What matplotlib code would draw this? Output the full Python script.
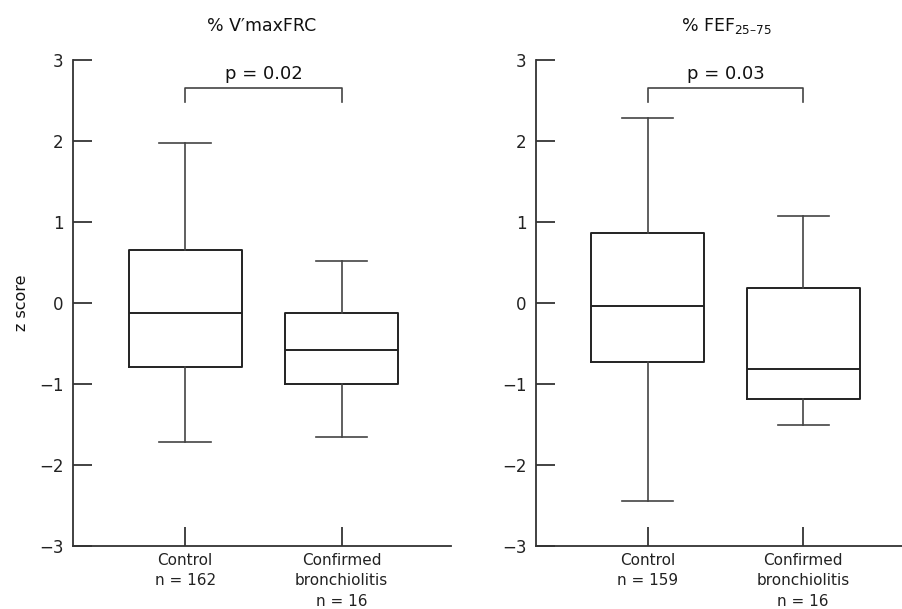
import matplotlib
matplotlib.use("Agg")
import matplotlib.pyplot as plt

plt.rcParams['font.family'] = ['DejaVu Sans']
plt.rcParams['mathtext.fontset'] = 'dejavusans'

# Data (z scores)
categories_left = ["Control\nn = 162", "Confirmed\nbronchiolitis\nn = 16"]
categories_right = ["Control\nn = 159", "Confirmed\nbronchiolitis\nn = 16"]

vmax_whislo = [-1.72, -1.65]
vmax_q1 = [-0.79, -1.00]
vmax_med = [-0.12, -0.58]
vmax_q3 = [0.66, -0.12]
vmax_whishi = [1.98, 0.52]

fef_whislo = [-2.44, -1.51]
fef_q1 = [-0.73, -1.18]
fef_med = [-0.04, -0.82]
fef_q3 = [0.86, 0.19]
fef_whishi = [2.28, 1.07]

titles = ["% V\u2032maxFRC", "% FEF$_{25\u201375}$"]
p_labels = ["p = 0.02", "p = 0.03"]
yticks = [-3, -2, -1, 0, 1, 2, 3]

fig = plt.figure(figsize=(9.02, 6.09), dpi=100)
ax_l = fig.add_axes([73/902, 63/609, (451-73)/902, 486/609])
ax_r = fig.add_axes([536/902, 63/609, (902-536)/902, 486/609])

panels = [
    (ax_l, categories_left, vmax_whislo, vmax_q1, vmax_med, vmax_q3, vmax_whishi),
    (ax_r, categories_right, fef_whislo, fef_q1, fef_med, fef_q3, fef_whishi),
]

line_c = '#222222'
for i, (ax, cats, wl, q1, med, q3, wh) in enumerate(panels):
    stats = []
    for k in range(len(cats)):
        stats.append(dict(whislo=wl[k], q1=q1[k], med=med[k], q3=q3[k],
                          whishi=wh[k], fliers=[]))
    ax.bxp(stats, positions=[0, 1], widths=0.725, showfliers=False,
           boxprops=dict(color=line_c, linewidth=1.4),
           medianprops=dict(color=line_c, linewidth=1.4),
           whiskerprops=dict(color='#444444', linewidth=1.2),
           capprops=dict(color='#444444', linewidth=1.2),
           capwidths=0.33)
    ax.set_xlim(-0.718, 1.70 if i == 0 else 1.635)
    ax.set_ylim(-3, 3)
    ax.set_yticks(yticks)
    ax.set_yticklabels([str(t).replace('-', '\u2212') for t in yticks])
    ax.set_xticks([0, 1])
    ax.set_xticklabels(cats, fontsize=11, linespacing=1.45)
    ax.tick_params(axis='y', direction='in', length=14, width=1.2,
                   labelsize=12, pad=7, colors=line_c)
    ax.tick_params(axis='x', direction='in', length=14, width=1.2,
                   labelsize=11, pad=5, colors=line_c)
    for s in ['top', 'right']:
        ax.spines[s].set_visible(False)
    for s in ['left', 'bottom']:
        ax.spines[s].set_linewidth(1.3)
        ax.spines[s].set_color('#333333')
    # significance bracket
    ax.plot([0, 0, 1, 1], [2.48, 2.65, 2.65, 2.48], color='#444444', linewidth=1.2)
    ax.text(0.5, 2.71, p_labels[i], ha='center', va='bottom', fontsize=13, color='#111111')
    ax.set_title(titles[i], fontsize=12.5, pad=21, color='#111111')

ax_r.title.set_x(0.52)
ax_l.set_ylabel("z score", fontsize=11.5, labelpad=7, color='#111111')

fig.savefig("out.png", dpi=100)
